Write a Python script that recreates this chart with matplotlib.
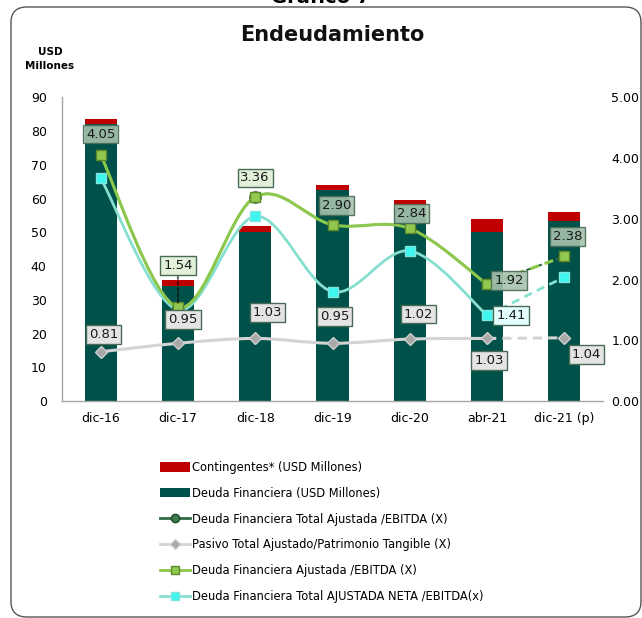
import matplotlib
matplotlib.use('Agg')
import matplotlib.pyplot as plt
import matplotlib.patches as patches
from matplotlib.path import Path
from matplotlib.lines import Line2D

# ------------------------------------------------------------
# Data
# ------------------------------------------------------------
categories = ['dic-16', 'dic-17', 'dic-18', 'dic-19', 'dic-20', 'abr-21', 'dic-21 (p)']
deuda_financiera = [82.0, 34.1, 50.1, 62.5, 57.7, 50.1, 53.2]
contingentes = [1.6, 1.7, 1.7, 1.4, 2.0, 3.7, 2.8]
total_ajustada_ebitda = [4.05, 1.54, 3.36, 2.90, 2.84, 1.92, 2.38]
pasivo_patrimonio = [0.81, 0.95, 1.03, 0.95, 1.02, 1.03, 1.04]
ajustada_ebitda = [4.05, 1.54, 3.36, 2.90, 2.84, 1.92, 2.38]
neta_ebitda = [3.67, 1.50, 3.04, 1.80, 2.47, 1.41, 2.04]

# Colors
c_bar = '#00514A'
c_red = '#C00000'
c_dkgreen = '#2F6B45'
c_gray = '#D4D4D4'
c_lime = '#8CC84B'
c_cyan = '#86E0CF'

plt.rcParams['font.family'] = 'DejaVu Sans'

fig = plt.figure(figsize=(6.42, 6.18), dpi=100)
ax = fig.add_axes([62 / 642, 1 - 401 / 618, (603 - 62) / 642, (401 - 97.3) / 618])
ax2 = ax.twinx()

x = list(range(len(categories)))

# ------------------------------------------------------------
# Bars
# ------------------------------------------------------------
ax.bar(x, deuda_financiera, width=0.415, color=c_bar, zorder=2)
ax.bar(x, contingentes, width=0.415, bottom=deuda_financiera, color=c_red, zorder=2)

ax.set_xlim(-0.5, 6.5)
ax.set_ylim(0, 90)
ax.set_yticks(range(0, 91, 10))
ax.set_xticks(x)
ax.set_xticklabels(categories)
ax.tick_params(axis='y', length=0, pad=11, labelsize=9)
ax.tick_params(axis='x', length=0, pad=8, labelsize=9)
for s in ['top', 'right']:
    ax.spines[s].set_visible(False)
for s in ['left', 'bottom']:
    ax.spines[s].set_color('#A6A6A6')
    ax.spines[s].set_linewidth(1)

ax2.set_ylim(0, 5)
ax2.set_yticks([0, 1, 2, 3, 4, 5])
ax2.set_yticklabels(['%.2f' % v for v in [0, 1, 2, 3, 4, 5]])
ax2.tick_params(axis='y', length=0, pad=6, labelsize=9)
for s in ax2.spines.values():
    s.set_visible(False)


# ------------------------------------------------------------
# Smoothed lines (Excel-like), last segment dashed
# ------------------------------------------------------------
def smooth_path(xs, ys):
    pts = list(zip(xs, ys))
    n = len(pts)
    verts = [pts[0]]
    codes = [Path.MOVETO]
    for i in range(n - 1):
        p0 = pts[i - 1] if i > 0 else pts[i]
        p1 = pts[i]
        p2 = pts[i + 1]
        p3 = pts[i + 2] if i + 2 < n else pts[i + 1]
        c1 = (p1[0] + (p2[0] - p0[0]) / 6, p1[1] + (p2[1] - p0[1]) / 6)
        c2 = (p2[0] - (p3[0] - p1[0]) / 6, p2[1] - (p3[1] - p1[1]) / 6)
        verts += [c1, c2, p2]
        codes += [Path.CURVE4] * 3
    return Path(verts, codes)


def draw_series(vals, color, lw, marker, mfc, mec, ms, z):
    solid = smooth_path(x[:6], vals[:6])
    ax2.add_patch(patches.PathPatch(solid, fill=False, edgecolor=color,
                                    linewidth=lw, zorder=z, capstyle='round'))
    ax2.plot(x[5:], vals[5:], color=color, linewidth=lw, linestyle=(0, (3, 2)),
             zorder=z)
    ax2.plot(x, vals, linestyle='none', marker=marker, markersize=ms,
             markerfacecolor=mfc, markeredgecolor=mec, markeredgewidth=1,
             zorder=z + 0.1)


draw_series(pasivo_patrimonio, c_gray, 2.2, 'D', '#A8A8A8', '#CFCFCF', 6, 3)
draw_series(neta_ebitda, c_cyan, 2.0, 's', '#3FF5F0', '#7FE6E0', 6.5, 4)
draw_series(total_ajustada_ebitda, c_dkgreen, 1.5, 'o', '#3E7A4C', '#1F4A2C', 8, 5)
draw_series(ajustada_ebitda, c_lime, 2.2, 's', '#92C84E', '#5E8A2E', 6.5, 6)

# ------------------------------------------------------------
# Data labels
# ------------------------------------------------------------
box_dark = dict(boxstyle='square,pad=0.22', facecolor='#A6C2AD', alpha=0.9,
                edgecolor='#4A6B55', linewidth=1)
box_light = dict(boxstyle='square,pad=0.22', facecolor='#E2F0D9',
                 edgecolor='#4A6B55', linewidth=1)
box_gray = dict(boxstyle='square,pad=0.22', facecolor='#E4E4E4',
                edgecolor='#4A6B55', linewidth=1)
box_cyan = dict(boxstyle='square,pad=0.22', facecolor='#E4FFFF',
                edgecolor='#4A6B55', linewidth=1)

green_offsets = [(0, 21), (0, 42), (0, 19), (4, 19), (2, 15), (22, 4), (3, 20)]
green_boxes = [box_dark, box_light, box_light, box_dark, box_dark, box_dark, box_dark]
for i, v in enumerate(ajustada_ebitda):
    kw = {}
    if i == 1:
        kw['arrowprops'] = dict(arrowstyle='-', linestyle='--', color='black',
                                lw=0.8, shrinkA=0, shrinkB=3)
    ax2.annotate('%.2f' % v, xy=(i, v), xytext=green_offsets[i],
                 textcoords='offset pixels', ha='center', va='center',
                 fontsize=9.5, color='#1A1A1A', bbox=green_boxes[i], zorder=10, **kw)

gray_offsets = [(3, 17), (5, 24), (12, 26), (2, 27), (9, 25), (2, -22), (22, -17)]
for i, v in enumerate(pasivo_patrimonio):
    ax2.annotate('%.2f' % v, xy=(i, v), xytext=gray_offsets[i],
                 textcoords='offset pixels', ha='center', va='center',
                 fontsize=9.5, color='#1A1A1A', bbox=box_gray, zorder=10)

ax2.annotate('%.2f' % neta_ebitda[5], xy=(5, neta_ebitda[5]), xytext=(24, 0),
             textcoords='offset pixels', ha='center', va='center',
             fontsize=9.5, color='#1A1A1A', bbox=box_cyan, zorder=10)

# ------------------------------------------------------------
# Titles and frame
# ------------------------------------------------------------
fig.text(332 / 642, 1 - 35 / 618, 'Endeudamiento', ha='center', va='center',
         fontsize=15, fontweight='bold', color='#111111')
fig.text(50 / 642, 1 - 59 / 618, 'USD\nMillones', ha='center', va='center',
         fontsize=7.5, fontweight='bold', linespacing=1.5)
fig.text(0.5, 1 - 3 / 618, 'Gráfico 7', ha='center', va='baseline',
         fontsize=14, fontweight='bold')

frame = patches.FancyBboxPatch((11 / 642, 1 / 618), (641 - 11) / 642, (611 - 1) / 618,
                               boxstyle='round,pad=0,rounding_size=0.025',
                               transform=fig.transFigure, fill=False,
                               edgecolor='#555555', linewidth=1)
fig.patches.append(frame)

# ------------------------------------------------------------
# Legend
# ------------------------------------------------------------
handles = [
    patches.Patch(facecolor=c_red, edgecolor='none'),
    patches.Patch(facecolor=c_bar, edgecolor='none'),
    Line2D([], [], color=c_dkgreen, lw=2, marker='o', markersize=6,
           markerfacecolor='#3E7A4C', markeredgecolor='#1F4A2C'),
    Line2D([], [], color=c_gray, lw=2, marker='D', markersize=5,
           markerfacecolor='#A8A8A8', markeredgecolor='#CFCFCF'),
    Line2D([], [], color=c_lime, lw=2, marker='s', markersize=5.5,
           markerfacecolor='#92C84E', markeredgecolor='#5E8A2E'),
    Line2D([], [], color=c_cyan, lw=2, marker='s', markersize=5.5,
           markerfacecolor='#3FF5F0', markeredgecolor='#7FE6E0'),
]
labels = [
    'Contingentes* (USD Millones)',
    'Deuda Financiera (USD Millones)',
    'Deuda Financiera Total Ajustada /EBITDA (X)',
    'Pasivo Total Ajustado/Patrimonio Tangible (X)',
    'Deuda Financiera Ajustada /EBITDA (X)',
    'Deuda Financiera Total AJUSTADA NETA /EBITDA(x)',
]
fig.legend(handles, labels, loc='upper left', bbox_to_anchor=(154 / 642, 1 - 455 / 618),
           frameon=False, fontsize=8.3, borderpad=0, handlelength=2.6,
           handleheight=0.9, handletextpad=0.2, labelspacing=1.12)

fig.savefig('out.png', dpi=100)
